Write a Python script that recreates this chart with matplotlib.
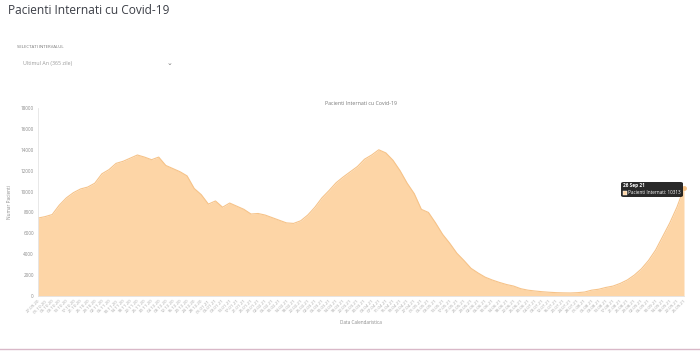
import numpy as np
import pandas as pd
import matplotlib
matplotlib.use("Agg")
import matplotlib.pyplot as plt
from matplotlib.patches import FancyBboxPatch, Rectangle

plt.rcParams['font.family'] = ['Open Sans', 'DejaVu Sans']

# patients in hospital, one reading every 4 days from 27 Sep 2020 to 26 Sep 2021
start_date = "2020-09-27"
step_days = 4
patients = [
    7460, 7600, 7800, 8700, 9400, 9900, 10250, 10430, 10800, 11700,
    12100, 12700, 12900, 13200, 13500, 13300, 13050, 13300, 12500, 12200,
    11900, 11500, 10300, 9700, 8800, 9100, 8500, 8900, 8600, 8300,
    7850, 7900, 7750, 7500, 7250, 7000, 6950, 7200, 7750, 8500,
    9400, 10100, 10850, 11400, 11900, 12400, 13100, 13500, 14000, 13700,
    13000, 12000, 10800, 9800, 8300, 8000, 7000, 5900, 5050, 4100,
    3400, 2650, 2200, 1800, 1530, 1300, 1100, 950, 700, 560,
    480, 410, 360, 320, 300, 290, 320, 380, 560, 650,
    820, 950, 1200, 1530, 2000, 2600, 3400, 4400, 5700, 7000,
    8500, 10313,
]
dates = pd.date_range(start_date, periods=len(patients), freq=f"{step_days}D")
y_ticks = [0, 2000, 4000, 6000, 8000, 10000, 12000, 14000, 16000, 18000]

page_title = "Pacienti Internati cu Covid-19"
chart_title = "Pacienti Internati cu Covid-19"
series_name = "Pacienti Internati"

fill_col = "#FDD5A6"
edge_col = "#F6C389"
grey = "#8a8a8a"

fig = plt.figure(figsize=(7, 3.53), dpi=100)
fig.patch.set_facecolor("white")

# page header
fig.text(8 / 700, 1 - 10 / 353, page_title, fontsize=8.6, color="#3c3f47", va="center")
fig.text(17 / 700, 1 - 47 / 353, "SELECTATI INTERVALUL", fontsize=3.2, color="#777777", va="center")
fig.text(23 / 700, 1 - 64 / 353, "Ultimul An (365 zile)", fontsize=3.8, color="#9a9a9a", va="center")
fig.text(170 / 700, 1 - 63 / 353, "\u2304", fontsize=5, color="#777777", va="center", ha="center",
         family=['DejaVu Sans'])

ax = fig.add_axes([38 / 700, 57 / 353, 646 / 700, 188 / 353])
ax.fill_between(dates, patients, 0, color=fill_col, linewidth=0)
ax.plot(dates, patients, color=edge_col, linewidth=0.8)
ax.set_xlim(dates[0], dates[-1])
ax.set_ylim(0, 18000)
ax.set_yticks(y_ticks)
ax.set_yticklabels([str(v) for v in y_ticks])
ax.tick_params(axis="y", labelsize=3.3, colors=grey, length=0, pad=3)

ax.set_xticks(dates)
ax.set_xticklabels([d.strftime("%d.%m.%y") for d in dates], rotation=45, ha="right",
                   rotation_mode="anchor")
ax.tick_params(axis="x", labelsize=3.2, colors="#a8a8a8", length=0, pad=2)

for s in ["top", "right"]:
    ax.spines[s].set_visible(False)
ax.spines["left"].set_color("#e4e4e4")
ax.spines["bottom"].set_color("#e4e4e4")
ax.spines["left"].set_linewidth(0.6)
ax.spines["bottom"].set_linewidth(0.6)

ax.set_title(chart_title, fontsize=3.8, color="#777777", pad=2)
ax.set_ylabel("Numar Pacienti", fontsize=3.3, color=grey, labelpad=6)
ax.set_xlabel("Data Calendaristica", fontsize=3.3, color=grey, labelpad=4)

# hovered last point and its tooltip
ax.plot(dates[-1], patients[-1], "o", color=edge_col, markersize=2.5, clip_on=False)
x0, y0 = 621 / 700, 1 - 197 / 353
w, h = 62 / 700, 15 / 353
fig.patches.append(FancyBboxPatch((x0, y0), w, h, boxstyle="round,pad=0,rounding_size=0.004",
                                  transform=fig.transFigure, facecolor="#111111", alpha=0.9,
                                  edgecolor="none"))
fig.text(x0 + 2 / 700, 1 - 186 / 353, dates[-1].strftime("%d %b %y").lstrip("0"),
         fontsize=3.4, color="white", weight="bold", va="center")
fig.patches.append(Rectangle((x0 + 2 / 700, 1 - 195 / 353), 4 / 700, 4 / 353,
                             transform=fig.transFigure, facecolor=fill_col, edgecolor="white",
                             linewidth=0.3))
fig.text(x0 + 7.5 / 700, 1 - 193 / 353, f"{series_name}: {patients[-1]}",
         fontsize=3.3, color="white", va="center")

# bottom page border
fig.add_artist(plt.Line2D([0, 1], [1 - 349 / 353] * 2, color="#d9b8c8", linewidth=1))

fig.savefig("out.png", dpi=100)
